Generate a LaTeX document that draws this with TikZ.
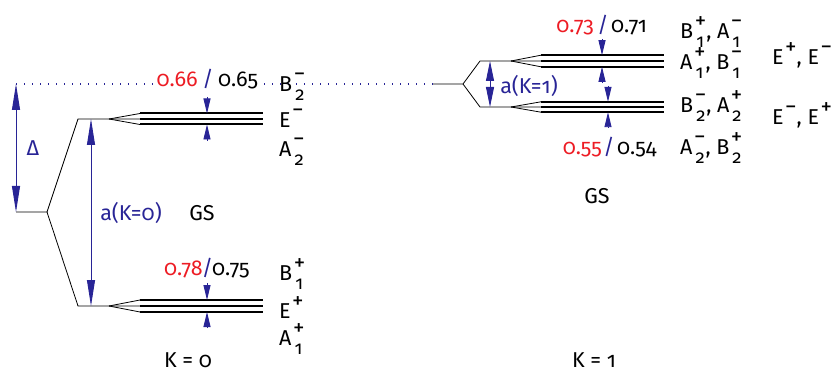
\documentclass[tikz,border=0pt]{standalone}
\usepackage{fontspec}
\setmainfont{Fira Sans}[Numbers=OldStyle]
\usetikzlibrary{arrows.meta}
\definecolor{dblue}{RGB}{40,36,150}
\definecolor{dred}{RGB}{237,28,36}
\newcommand\scrfont{\fontsize{18.5}{18.5}\selectfont}
\newcommand\supfont{\fontsize{23}{23}\selectfont}
\newcommand\lv[3]{#1\kern1.5pt\begingroup
  \setbox0\hbox{\scrfont #2}\setbox2\hbox{\supfont #3}%
  \ifdim\wd0>\wd2 \dimen0=\wd0 \else \dimen0=\wd2 \fi
  \rlap{\raise10pt\box2}\lower9pt\hbox to\dimen0{\kern1.5pt\box0\hss}\endgroup}
\begin{document}
\begin{tikzpicture}[x=1pt,y=-1pt,
  thinl/.style={line width=0.8pt},
  lvl/.style={line width=2pt},
  bigarr/.style={dblue, line width=0.9pt, {Triangle[length=26pt,width=8pt]}-{Triangle[length=26pt,width=8pt]}},
  midarr/.style={dblue, line width=0.9pt, {Triangle[length=20pt,width=8pt]}-{Triangle[length=20pt,width=8pt]}},
  smarr/.style={dblue, line width=0.9pt, -{Triangle[length=15pt,width=7pt]}},
  lab/.style={font=\fontsize{21.5}{24}\selectfont, inner sep=0pt},
  val/.style={lab, fill=white, inner xsep=3pt},
]
\useasboundingbox (0,0) rectangle (840,374);
% guide line
\coordinate (d0) at (16,84);
\coordinate (d1) at (433,84);
\draw[dblue, line width=1.2pt, dash pattern=on 1pt off 7pt] (d0) -- (d1);
% ---------- K = 0 ----------
\coordinate (r0) at (16,212);
\coordinate (b0) at (47,212);
\coordinate (u0) at (78,119);
\coordinate (u1) at (109,119);
\coordinate (ua) at (140,113.5);
\coordinate (ub) at (140,119);
\coordinate (uc) at (140,124.5);
\coordinate (uae) at (263,113.5);
\coordinate (ube) at (263,119);
\coordinate (uce) at (263,124.5);
\coordinate (l0) at (78,306);
\coordinate (l1) at (109,306);
\coordinate (la) at (140,300);
\coordinate (lb) at (140,306);
\coordinate (lc) at (140,312);
\coordinate (lae) at (263,300);
\coordinate (lbe) at (263,306);
\coordinate (lce) at (263,312);
\draw[thinl] (r0) -- (b0) -- (u0) -- (u1) -- (ub);
\draw[thinl] (u1) -- (ua);
\draw[thinl] (u1) -- (uc);
\draw[thinl] (b0) -- (l0) -- (l1) -- (lb);
\draw[thinl] (l1) -- (la);
\draw[thinl] (l1) -- (lc);
\draw[lvl] (ua) -- (uae);
\draw[lvl] (ub) -- (ube);
\draw[lvl] (uc) -- (uce);
\draw[lvl] (la) -- (lae);
\draw[lvl] (lb) -- (lbe);
\draw[lvl] (lc) -- (lce);
\draw[bigarr] (d0) -- (r0);
\coordinate (ak0t) at (91,119);
\coordinate (ak0b) at (91,306);
\draw[bigarr] (ak0t) -- (ak0b);
\coordinate (s1a) at (207,97);   \coordinate (s1b) at (207,113.5);
\coordinate (s2a) at (207,141);  \coordinate (s2b) at (207,124.5);
\coordinate (s3a) at (207,283);  \coordinate (s3b) at (207,300);
\coordinate (s4a) at (207,328);  \coordinate (s4b) at (207,312);
\draw[smarr] (s1a) -- (s1b);
\draw[smarr] (s2a) -- (s2b);
\draw[smarr] (s3a) -- (s3b);
\draw[smarr] (s4a) -- (s4b);
\node[lab, text=dblue] (delta) at (33,148) {Δ};
\node[lab, text=dblue] (ak0) at (131,213) {a(K=0)};
\node[lab] (gs0) at (202,213) {GS};
\node[lab, anchor=base] (k0) at (188,367) {K = 0};
\node[val, text=dred, anchor=base east] (v66) at (201,87) {0.66};
\node[val, text=dblue, anchor=base] (v66s) at (208,87) {/};
\node[val, anchor=base west] (v65) at (215,87) {0.65};
\node[lab, text=dred, anchor=base east] (v78) at (203,275) {0.78};
\node[lab, text=dblue, anchor=base] (v78s) at (207.5,275) {/};
\node[lab, anchor=base west] (v75) at (212,275) {0.75};
\node[lab, anchor=base west] (b2m) at (279,92) {\lv{B}{2}{−}};
\node[lab, anchor=base west] (em) at (279,128) {\lv{E}{}{−}};
\node[lab, anchor=base west] (a2m) at (279,157) {\lv{A}{2}{−}};
\node[lab, anchor=base west] (b1p) at (279,280) {\lv{B}{1}{+}};
\node[lab, anchor=base west] (ep) at (279,318) {\lv{E}{}{+}};
\node[lab, anchor=base west] (a1p) at (279,345) {\lv{A}{1}{+}};
% ---------- K = 1 ----------
\coordinate (k1) at (463,84);
\coordinate (ku0) at (480,61);
\coordinate (ku1) at (511,61);
\coordinate (kua) at (541,55.2);
\coordinate (kub) at (541,61);
\coordinate (kuc) at (541,66.8);
\coordinate (kuae) at (664,55.2);
\coordinate (kube) at (664,61);
\coordinate (kuce) at (664,66.8);
\coordinate (kl0) at (480,107);
\coordinate (kl1) at (511,107);
\coordinate (kla) at (541,101.8);
\coordinate (klb) at (541,107);
\coordinate (klc) at (541,112.2);
\coordinate (klae) at (664,101.8);
\coordinate (klbe) at (664,107);
\coordinate (klce) at (664,112.2);
\draw[thinl] (d1) -- (k1) -- (ku0) -- (ku1) -- (kub);
\draw[thinl] (ku1) -- (kua);
\draw[thinl] (ku1) -- (kuc);
\draw[thinl] (k1) -- (kl0) -- (kl1) -- (klb);
\draw[thinl] (kl1) -- (kla);
\draw[thinl] (kl1) -- (klc);
\draw[lvl] (kua) -- (kuae);
\draw[lvl] (kub) -- (kube);
\draw[lvl] (kuc) -- (kuce);
\draw[lvl] (kla) -- (klae);
\draw[lvl] (klb) -- (klbe);
\draw[lvl] (klc) -- (klce);
\coordinate (ak1t) at (490,61);
\coordinate (ak1b) at (490,107);
\draw[midarr] (ak1t) -- (ak1b);
\coordinate (t1a) at (602,39);   \coordinate (t1b) at (602,55.2);
\coordinate (t2a) at (602,83);   \coordinate (t2b) at (602,66.8);
\coordinate (t3a) at (608,86);   \coordinate (t3b) at (608,101.8);
\coordinate (t4a) at (608,128);  \coordinate (t4b) at (608,112.2);
\draw[smarr] (t1a) -- (t1b);
\draw[smarr] (t2a) -- (t2b);
\draw[smarr] (t3a) -- (t3b);
\draw[smarr] (t4a) -- (t4b);
\node[lab, text=dblue] (ak1) at (529,86) {a(K=1)};
\node[lab] (gs1) at (597,196) {GS};
\node[lab, anchor=base] (k1l) at (594,367) {K = 1};
\node[lab, text=dred, anchor=base east] (v73) at (594,33) {0.73};
\node[lab, text=dblue, anchor=base] (v73s) at (603,33) {/};
\node[lab, anchor=base west] (v71) at (611,33) {0.71};
\node[lab, text=dred, anchor=base east] (v55) at (602,155) {0.55};
\node[lab, text=dblue, anchor=base] (v55s) at (609,155) {/};
\node[lab, anchor=base west] (v54) at (617,155) {0.54};
\node[lab, anchor=base west] (q1) at (680,39) {\lv{B}{1}{+}, \lv{A}{1}{−}};
\node[lab, anchor=base west] (q2) at (680,70) {\lv{A}{1}{+}, \lv{B}{1}{−}};
\node[lab, anchor=base west] (q3) at (680,113) {\lv{B}{2}{−}, \lv{A}{2}{+}};
\node[lab, anchor=base west] (q4) at (680,155) {\lv{A}{2}{−}, \lv{B}{2}{+}};
\node[lab, anchor=base west] (e1) at (772,65) {\lv{E}{}{+}, \lv{E}{}{−}};
\node[lab, anchor=base west] (e2) at (772,125) {\lv{E}{}{−}, \lv{E}{}{+}};
\end{tikzpicture}
\end{document}
